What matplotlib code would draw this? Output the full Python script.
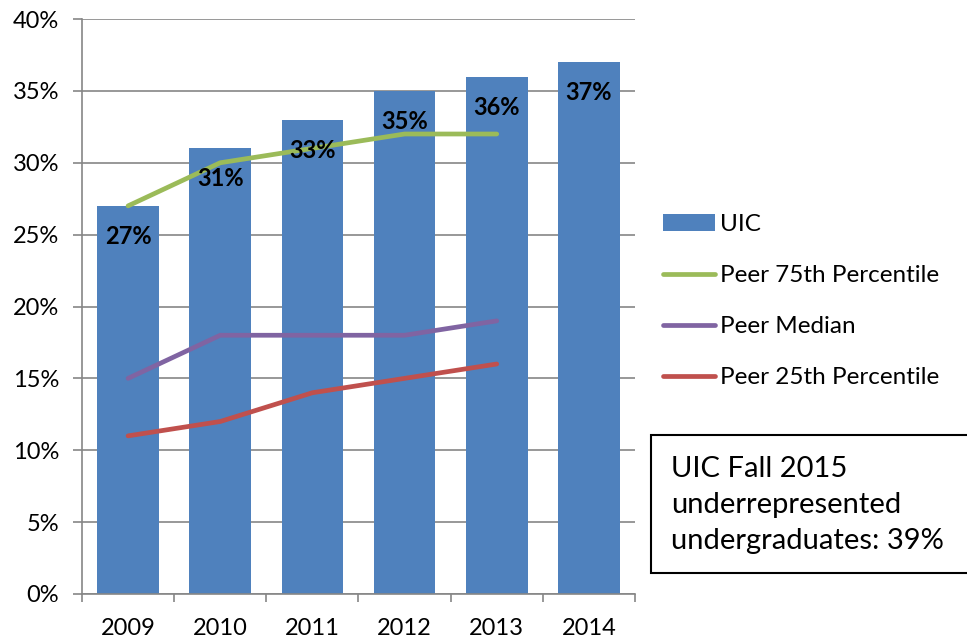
import matplotlib
matplotlib.use("Agg")
import matplotlib.pyplot as plt
from matplotlib.patches import Patch, Rectangle
from matplotlib.lines import Line2D
import numpy as np

plt.rcParams['font.family'] = ['Lato', 'DejaVu Sans']

years = ['2009', '2010', '2011', '2012', '2013', '2014']
uic = [27, 31, 33, 35, 36, 37]
peer75 = [27, 30, 31, 32, 32]
peer_median = [15, 18, 18, 18, 19]
peer25 = [11, 12, 14, 15, 16]
yticks = [0, 5, 10, 15, 20, 25, 30, 35, 40]
note = "UIC Fall 2015\nunderrepresented\nundergraduates: 39%"

bar_c = '#4F81BD'
green = '#9BBB59'
purple = '#8064A2'
red = '#C0504D'
grid_c = '#868686'

fig = plt.figure(figsize=(9.67, 6.41), dpi=100)
ax = fig.add_axes([82/967, 47/641, (635-82)/967, (594-19)/641])

x = np.arange(len(years))
ax.bar(x, uic, width=0.67, color=bar_c, zorder=2)
xl = np.arange(len(peer75))
ax.plot(xl, peer75, color=green, lw=3.4, zorder=3, solid_capstyle='round')
ax.plot(xl, peer_median, color=purple, lw=3.4, zorder=3, solid_capstyle='round')
ax.plot(xl, peer25, color=red, lw=3.4, zorder=3, solid_capstyle='round')

for xi, v in zip(x, uic):
    ax.annotate(f"{v}%", (xi, v), xytext=(0, -22), textcoords='offset points',
                ha='center', va='center', fontsize=17, fontweight='bold', zorder=4)

ax.set_xlim(-0.5, len(years) - 0.5)
ax.set_ylim(0, 40)
ax.set_yticks(yticks)
ax.set_yticklabels([f"{t}%" for t in yticks])
ax.yaxis.grid(True, color=grid_c, lw=1.2, zorder=0)
ax.set_axisbelow(True)
ax.set_xticks(x)
ax.set_xticklabels(years)
ax.set_xticks(np.arange(-0.5, len(years), 1), minor=True)
ax.tick_params(axis='x', which='major', length=0, pad=17, labelsize=17)
ax.tick_params(axis='x', which='minor', length=6, width=1.2, color=grid_c, direction='out')
ax.tick_params(axis='y', length=6.5, width=1.2, color=grid_c, pad=10, labelsize=17)
for s in ['top', 'right']:
    ax.spines[s].set_visible(False)
for s in ['left', 'bottom']:
    ax.spines[s].set_color(grid_c)
    ax.spines[s].set_linewidth(1.2)

handles = [Patch(facecolor=bar_c, edgecolor='none'),
           Line2D([0], [0], color=green, lw=3.4, solid_capstyle='round'),
           Line2D([0], [0], color=purple, lw=3.4, solid_capstyle='round'),
           Line2D([0], [0], color=red, lw=3.4, solid_capstyle='round')]
labels = ['UIC', 'Peer 75th Percentile', 'Peer Median', 'Peer 25th Percentile']
fig.legend(handles, labels, loc='upper left', bbox_to_anchor=(663/967, 1 - 214/641),
           frameon=False, fontsize=17.5, handlelength=2.15, handleheight=0.65,
           handletextpad=0.2, labelspacing=1.24, borderaxespad=0, borderpad=0)

fig.patches.append(Rectangle((651/967, 1 - 573/641), 330/967, 138/641,
                             transform=fig.transFigure, facecolor='white',
                             edgecolor='black', lw=1.5, zorder=0))
fig.text(671/967, 1 - 505/641, note, fontsize=21, va='center', ha='left',
         linespacing=1.46)

fig.savefig('out.png', dpi=100)
